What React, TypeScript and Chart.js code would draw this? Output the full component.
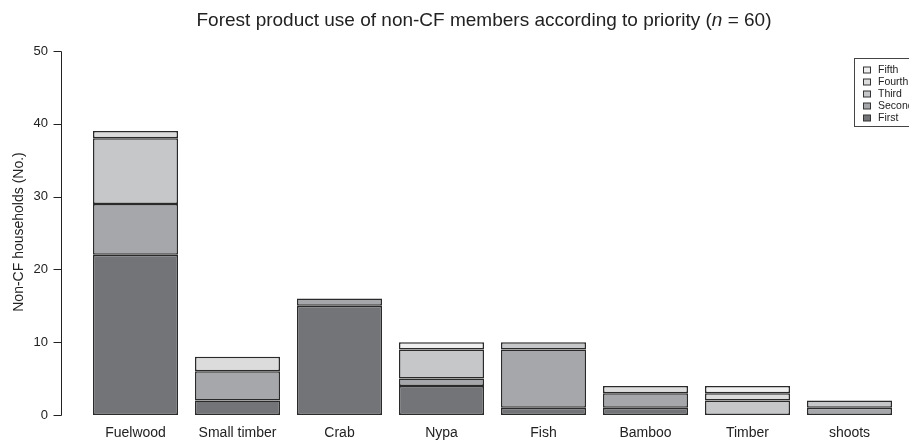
import React, { useEffect, useRef } from "react";
import { Chart, registerables } from "chart.js";

Chart.register(...registerables);

const categories = ["Fuelwood", "Small timber", "Crab", "Nypa", "Fish", "Bamboo", "Timber", "shoots"];
const seriesNames = ["First", "Second", "Third", "Fourth", "Fifth"];
const first = [22, 2, 15, 4, 1, 1, 0, 0];
const second = [7, 4, 1, 1, 8, 2, 0, 1];
const third = [9, 0, 0, 4, 1, 0, 2, 1];
const fourth = [1, 2, 0, 0, 0, 1, 1, 0];
const fifth = [0, 0, 0, 1, 0, 0, 1, 0];
const colors = ["#737477", "#a6a7aa", "#c6c7c9", "#dcdcdd", "#efefef"];
const yTicks = [0, 10, 20, 30, 40, 50];
const titleParts = ["Forest product use of non-CF members according to priority (", "n", " = 60)"];
const yTitle = "Non-CF households (No.)";

const FONT = "'Liberation Sans', Arial, sans-serif";

const overlay = {
  id: "overlay",
  afterDraw(chart: any) {
    const ctx = chart.ctx;
    const y = chart.scales.y;
    const x = chart.scales.x;
    ctx.save();
    // y axis line + ticks + labels
    const ax = 61.5;
    ctx.strokeStyle = "#222";
    ctx.lineWidth = 1;
    ctx.beginPath();
    ctx.moveTo(ax, Math.round(y.getPixelForValue(0)) + 0.5);
    ctx.lineTo(ax, Math.round(y.getPixelForValue(50)) + 0.5);
    yTicks.forEach((v) => {
      const py = Math.round(y.getPixelForValue(v)) + 0.5;
      ctx.moveTo(ax, py);
      ctx.lineTo(ax - 8, py);
    });
    ctx.stroke();
    ctx.fillStyle = "#222";
    ctx.font = `13px ${FONT}`;
    ctx.textAlign = "right";
    ctx.textBaseline = "middle";
    yTicks.forEach((v) => {
      ctx.fillText(String(v), 48, y.getPixelForValue(v));
    });

    // x labels
    ctx.font = `14px ${FONT}`;
    ctx.textAlign = "center";
    categories.forEach((c, i) => {
      ctx.fillText(c, x.getPixelForValue(i), 433);
    });

    // y title
    ctx.font = `14px ${FONT}`;
    ctx.textAlign = "center";
    ctx.textBaseline = "middle";
    ctx.translate(19, 232);
    ctx.rotate(-Math.PI / 2);
    ctx.fillText(yTitle, 0, 0);
    ctx.setTransform(1, 0, 0, 1, 0, 0);

    // title with italic n
    const normal = `19px ${FONT}`;
    const italic = `italic 19px ${FONT}`;
    ctx.textAlign = "left";
    ctx.textBaseline = "middle";
    ctx.font = normal;
    const w0 = ctx.measureText(titleParts[0]).width;
    const w2 = ctx.measureText(titleParts[2]).width;
    ctx.font = italic;
    const w1 = ctx.measureText(titleParts[1]).width;
    let tx = 484 - (w0 + w1 + w2) / 2;
    const ty = 21;
    ctx.font = normal;
    ctx.fillText(titleParts[0], tx, ty);
    tx += w0;
    ctx.font = italic;
    ctx.fillText(titleParts[1], tx, ty);
    tx += w1;
    ctx.font = normal;
    ctx.fillText(titleParts[2], tx, ty);

    // legend
    ctx.strokeStyle = "#444";
    ctx.lineWidth = 1;
    ctx.strokeRect(854.5, 58.5, 70, 68);
    ctx.font = `10.5px ${FONT}`;
    ctx.textBaseline = "middle";
    for (let i = 0; i < 5; i++) {
      const idx = 4 - i;
      const cy = 70 + i * 12;
      ctx.fillStyle = colors[idx];
      ctx.fillRect(863.5, cy - 3, 7, 6);
      ctx.strokeStyle = "#333";
      ctx.strokeRect(863.5, cy - 3, 7, 6);
      ctx.fillStyle = "#222";
      ctx.fillText(seriesNames[idx], 878, cy + 0.5);
    }
    ctx.restore();
  },
};

export default function App() {
  const ref = useRef<HTMLCanvasElement>(null);
  useEffect(() => {
    if (!ref.current) return;
    const values = [first, second, third, fourth, fifth];
    const chart = new Chart(ref.current, {
      type: "bar",
      data: {
        labels: categories,
        datasets: values.map((d, i) => ({
          label: seriesNames[i],
          data: d,
          backgroundColor: colors[i],
          borderColor: "#2a2a2a",
          borderWidth: 1.5,
          borderSkipped: false,
          barPercentage: 85 / 102,
          categoryPercentage: 1,
        })),
      },
      options: {
        animation: false,
        responsive: false,
        devicePixelRatio: 1,
        layout: { padding: { top: 51, right: 8.5, left: 84.5, bottom: 29 } },
        plugins: { legend: { display: false }, title: { display: false }, tooltip: { enabled: false } },
        scales: {
          x: { stacked: true, display: false },
          y: { stacked: true, min: 0, max: 50, display: false },
        },
      },
      plugins: [overlay],
    });
    return () => chart.destroy();
  }, []);
  return (
    <div style={{ position: "fixed", left: 0, top: 0, width: 909, height: 444, background: "#fff" }}>
      <canvas ref={ref} width={909} height={444} style={{ width: 909, height: 444, display: "block" }} />
    </div>
  );
}
